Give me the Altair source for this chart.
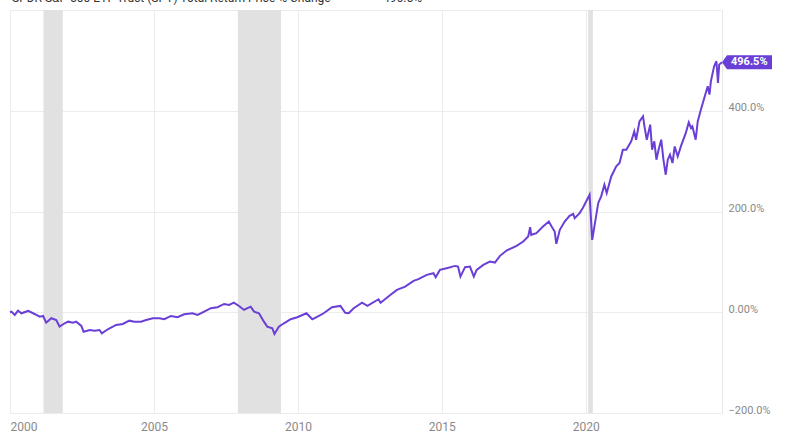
import altair as alt
import pandas as pd

# ---- data ----
dates = [
    "2000-01-01", "2000-01-20", "2000-03-01", "2000-04-12", "2000-05-25", "2000-08-18", "2000-10-20",
    "2000-12-01", "2001-01-12", "2001-02-24", "2001-04-04", "2001-06-08", "2001-08-10", "2001-09-21",
    "2001-11-25", "2002-01-08", "2002-03-10", "2002-04-20", "2002-06-24", "2002-07-23", "2002-10-09",
    "2002-12-08", "2003-02-10", "2003-03-11", "2003-05-26", "2003-09-08", "2003-12-02", "2004-02-24",
    "2004-04-27", "2004-07-20", "2004-09-24", "2004-12-17", "2005-03-11", "2005-05-12", "2005-08-04",
    "2005-10-27", "2006-01-19", "2006-05-04", "2006-07-08", "2006-09-30", "2006-12-24", "2007-03-18",
    "2007-06-10", "2007-08-12", "2007-10-11", "2007-12-16", "2008-02-18", "2008-04-01", "2008-05-12",
    "2008-06-24", "2008-08-25", "2008-10-27", "2008-12-08", "2009-02-10", "2009-03-09", "2009-05-04",
    "2009-07-08", "2009-10-01", "2009-12-24", "2010-04-20", "2010-07-02", "2010-08-20", "2010-11-24",
    "2011-03-10", "2011-06-24", "2011-08-25", "2011-10-08", "2011-12-10", "2012-03-25", "2012-06-01",
    "2012-10-20", "2012-11-15", "2013-03-18", "2013-06-10", "2013-09-23", "2014-01-08", "2014-03-10",
    "2014-06-24", "2014-09-17", "2014-10-15", "2014-12-08", "2015-03-03", "2015-06-17", "2015-07-26",
    "2015-08-25", "2015-10-23", "2015-12-24", "2016-02-11", "2016-03-18", "2016-06-10", "2016-09-02",
    "2016-11-04", "2017-01-08", "2017-04-01", "2017-08-07", "2017-10-30", "2018-01-01", "2018-01-26",
    "2018-02-08", "2018-04-15", "2018-07-08", "2018-09-20", "2018-10-25", "2018-12-03", "2018-12-24",
    "2019-02-06", "2019-04-09", "2019-06-10", "2019-07-26", "2019-08-14", "2019-10-15", "2019-11-25",
    "2020-02-19", "2020-03-23", "2020-06-08", "2020-07-15", "2020-08-25", "2020-09-23", "2020-11-20",
    "2021-01-22", "2021-03-05", "2021-04-16", "2021-05-30", "2021-07-31", "2021-09-08", "2021-10-01",
    "2021-11-13", "2021-12-28", "2022-01-15", "2022-02-14", "2022-03-29", "2022-04-22", "2022-05-20",
    "2022-06-16", "2022-07-13", "2022-08-16", "2022-09-13", "2022-10-12", "2022-11-07", "2022-12-05",
    "2023-01-06", "2023-02-03", "2023-03-13", "2023-04-22", "2023-06-24", "2023-07-31", "2023-08-29",
    "2023-09-15", "2023-10-27", "2023-11-22", "2024-01-01", "2024-02-13", "2024-03-28", "2024-04-19",
    "2024-05-07", "2024-06-17", "2024-07-16", "2024-08-05", "2024-08-20", "2024-09-25",
]
pct_change = [
    0.0, 1.2, -5.4, 3.2, -2.0, 2.6, -2.0,
    -5.4, -8.7, -7.4, -20.7, -11.9, -15.3, -28.6,
    -21.9, -18.7, -20.7, -18.7, -27.2, -38.6, -35.2,
    -36.6, -35.2, -41.7, -33.8, -25.2, -23.3, -16.7,
    -18.7, -18.7, -15.3, -11.9, -11.9, -13.9, -7.4,
    -9.9, -4.0, -2.0, -5.4, 1.2, 8.0, 9.9,
    16.5, 14.5, 19.1, 12.5, 4.6, 8.0, 11.1,
    1.2, -2.0, -18.7, -28.6, -31.8, -43.1, -28.6,
    -21.9, -13.9, -9.9, -2.0, -14.0, -10.0, -2.0,
    10.0, 12.5, -1.0, -2.0, 8.0, 19.0, 12.5,
    25.8, 19.0, 34.4, 44.3, 50.9, 62.2, 65.6,
    74.2, 77.5, 69.6, 84.1, 87.5, 92.0, 90.7,
    70.8, 89.5, 90.7, 70.8, 84.1, 94.0, 100.6,
    98.6, 112.0, 122.5, 131.8, 140.4, 150.3, 169.0,
    153.7, 157.0, 170.2, 180.1, 170.2, 160.2, 135.8,
    163.6, 180.1, 191.5, 195.4, 186.9, 196.8, 206.8,
    233.2, 143.7, 217.0, 230.0, 253.0, 236.6, 269.6,
    289.5, 296.2, 322.7, 322.7, 339.2, 359.0, 342.5,
    378.9, 388.9, 369.0, 342.5, 372.4, 322.7, 339.2,
    302.8, 322.7, 342.5, 302.8, 273.0, 302.8, 312.7,
    296.2, 329.2, 309.3, 329.2, 355.9, 376.9, 365.8,
    369.0, 342.5, 378.9, 402.2, 425.4, 448.5, 432.0,
    458.4, 488.3, 498.2, 455.2, 491.6, 496.5,
]
recession_start = ["2001-03-01", "2007-12-01", "2020-02-01"]
recession_end = ["2001-11-01", "2009-06-01", "2020-04-01"]

title_text = "SPDR S&P 500 ETF Trust (SPY) Total Return Price % Change"
last_label = "496.5%"

LINE = "#6a3fd6"
GRID = "#ececec"
LABEL = "#8a8a8a"
FONT = "Roboto"

df = pd.DataFrame({"date": pd.to_datetime(dates), "value": pct_change})
rec = pd.DataFrame({"start": pd.to_datetime(recession_start), "end": pd.to_datetime(recession_end)})
last = df.tail(1).assign(label=last_label)

x_scale = alt.Scale(domain=[alt.DateTime(year=2000, month=1, date=1),
                            alt.DateTime(year=2024, month=9, date=25)], nice=False)
y_scale = alt.Scale(domain=[-200, 600], nice=False)

x_axis = alt.Axis(
    title=None, values=[alt.DateTime(year=y, month=1, date=1) for y in [2000, 2005, 2010, 2015, 2020]],
    format="%Y", grid=True, gridColor=GRID, domain=False, ticks=False, labelFlush=True,
    labelColor=LABEL, labelFont=FONT, labelFontSize=12, labelPadding=8,
)
y_axis = alt.Axis(
    title=None, orient="right", values=[-200, 0, 200, 400, 600], grid=True, gridColor=GRID,
    domain=False, ticks=False, labelColor=LABEL, labelFont=FONT, labelFontSize=11,
    labelPadding=6, labelBaseline="alphabetic", labelAlign="left",
    labelExpr="datum.value == 600 ? '' : (datum.value == 0 ? '0.00%' : format(datum.value, '.1f') + '%')",
)

bands = alt.Chart(rec).mark_rect(color="#e1e1e1").encode(
    x=alt.X("start:T", scale=x_scale, axis=x_axis),
    x2="end:T",
    y=alt.value(0),
    y2=alt.value(403),
)

line = alt.Chart(df).mark_line(color=LINE, strokeWidth=2).encode(
    x=alt.X("date:T", scale=x_scale, axis=x_axis),
    y=alt.Y("value:Q", scale=y_scale, axis=y_axis),
)

tag = alt.Chart(last).mark_point(
    shape="M0,0 L0.5,-0.7 L5,-0.7 L5,0.7 L0.5,0.7 Z", size=400, filled=True, color=LINE, opacity=1
).encode(x=alt.X("date:T", scale=x_scale), y=alt.Y("value:Q", scale=y_scale))

tag_text = alt.Chart(last).mark_text(
    align="left", baseline="middle", dx=9, color="white", font=FONT, fontSize=11, fontWeight="bold"
).encode(x=alt.X("date:T", scale=x_scale), y=alt.Y("value:Q", scale=y_scale), text="label:N")

# title sits mostly above the visible page, as in the reference (only its lower edge shows)
title_df = pd.DataFrame({"t": [title_text], "v": [last_label]})
title_mark = alt.Chart(title_df).mark_text(
    align="left", baseline="alphabetic", font=FONT, fontSize=12, color="#333333"
).encode(x=alt.value(2), y=alt.value(-8), text="t:N")
title_val = alt.Chart(title_df).mark_text(
    align="left", baseline="alphabetic", font=FONT, fontSize=12, color="#333333"
).encode(x=alt.value(373), y=alt.value(-8), text="v:N")

chart = alt.layer(bands, line, tag, tag_text, title_mark, title_val).properties(
    width=712, height=403,
    padding={"left": 10, "top": 10, "right": 78, "bottom": 32},
    autosize=alt.AutoSizeParams(type="none"),
    background="white",
).configure_view(stroke="#e6e6e6", strokeWidth=1)

chart.save("out.html", embed_options={"renderer": "svg", "actions": False})
